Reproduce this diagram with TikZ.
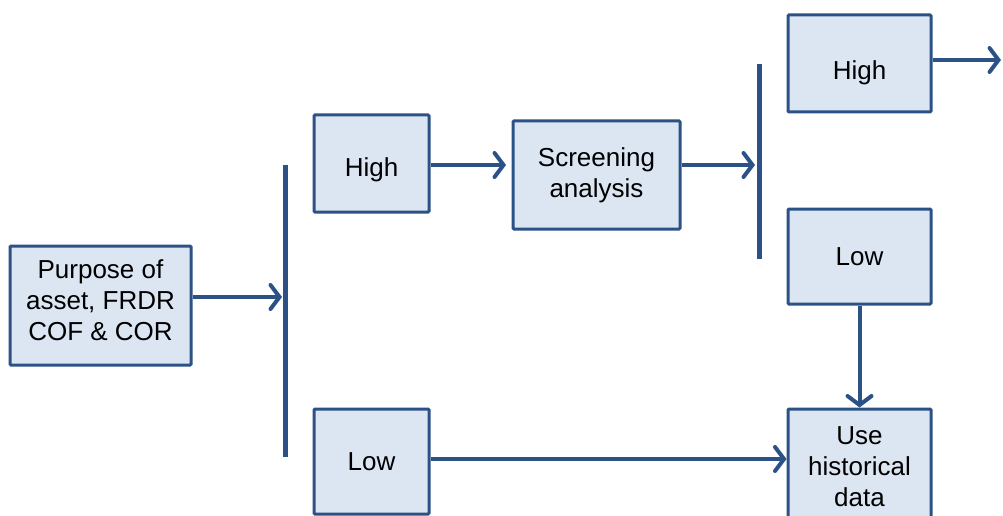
\documentclass[tikz,border=0pt]{standalone}
\usepackage{fontspec}
\setmainfont{Liberation Sans}
\usetikzlibrary{arrows.meta}
\definecolor{boxfill}{HTML}{DCE6F2}
\definecolor{boxline}{HTML}{2B5186}
\begin{document}
\begin{tikzpicture}[x=1pt,y=-1pt,
  boxtext/.style={inner sep=0pt,align=center,font=\fontsize{26}{31}\selectfont},
  box/.style={draw=boxline,fill=boxfill,line width=3pt,rounded corners=1pt,boxtext},
  conn/.style={draw=boxline,line width=4pt,
    -{Straight Barb[length=9pt,width=24pt,line width=4pt,line cap=round]}},
  barline/.style={draw=boxline,line width=5pt}]
\useasboundingbox (0,0) rectangle (1003,516);
\node[box,minimum width=181pt,minimum height=119pt,
  label={[boxtext,yshift=5pt]center:{Purpose of\\asset, FRDR\\COF \& COR}}] (purpose) at (100.5,305.5) {};
\node[box,minimum width=115pt,minimum height=97pt,
  label={[boxtext,yshift=-6pt]center:High}] (high1) at (371.5,163.5) {};
\node[box,minimum width=115pt,minimum height=105pt] (low1) at (371.5,461.5) {Low};
\node[box,minimum width=167pt,minimum height=108pt] (screen) at (596.5,175) {Screening\\analysis};
\node[box,minimum width=143pt,minimum height=97pt,
  label={[boxtext,yshift=-9pt]center:High}] (high2) at (859.5,63.5) {};
\node[box,minimum width=143pt,minimum height=95pt] (low2) at (859.5,256.5) {Low};
\node[box,minimum width=143pt,minimum height=116pt] (use) at (859.5,467) {Use\\historical\\data};
\coordinate (b1t) at (285,165);
\coordinate (b1b) at (285,457);
\coordinate (b2t) at (759,64);
\coordinate (b2b) at (759,259);
\coordinate (out) at (1001,60);
\draw[barline] (b1t) -- (b1b);
\draw[barline] (b2t) -- (b2b);
\draw[conn] (purpose.east |- 0,297) -- (282,297);
\draw[conn] (high1.east |- 0,165) -- (506,165);
\draw[conn] (screen.east |- 0,165) -- (755,165);
\draw[conn] (high2.east |- 0,60) -- (out);
\draw[conn] (low2.south) -- (use.north);
\draw[conn] (low1.east |- 0,459) -- (use.west |- 0,459);
\end{tikzpicture}
\end{document}
